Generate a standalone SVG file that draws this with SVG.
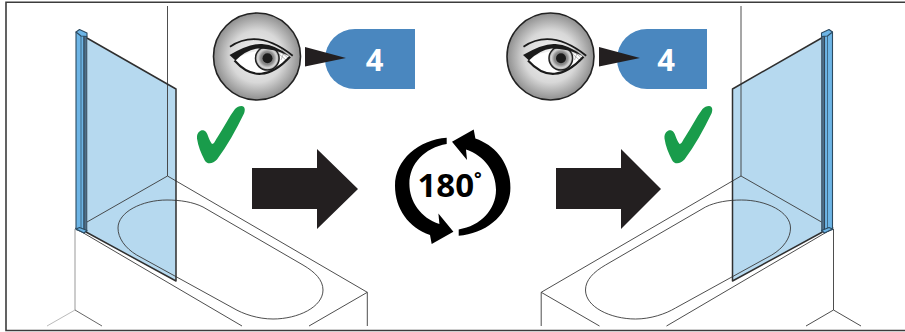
<svg xmlns="http://www.w3.org/2000/svg" xmlns:xlink="http://www.w3.org/1999/xlink" width="905" height="332" viewBox="0 0 905 332">
<style>
.l{fill:none;stroke:#3a3a3a;stroke-width:.9}
.g{fill:#b6d9ef;stroke:none}
.ge{fill:none;stroke:#2f2f2f;stroke-width:1.500;stroke-linejoin:round}
.p1{fill:#6db5e6;stroke:#2c4a60;stroke-width:1.100;stroke-linejoin:round}
.p2{fill:#4d6f88;stroke:#2f3f4f;stroke-width:.8}
.num{font-family:"Open Sans","Liberation Sans",sans-serif;font-weight:700;font-size:31px;fill:#fff;text-anchor:middle}
.big{fill:#231f20}
.chk{fill:#199c4b}
.blue{fill:#4a87bf}
</style>
<defs>
<radialGradient id="disc"><stop offset="0" stop-color="#f6f6f6"/><stop offset=".6" stop-color="#d8d8d8"/><stop offset="1" stop-color="#8f8f8f"/></radialGradient>
<radialGradient id="iris"><stop offset="0" stop-color="#666"/><stop offset=".55" stop-color="#8a8a8a"/><stop offset=".8" stop-color="#d6d6d6"/><stop offset="1" stop-color="#aaa"/></radialGradient>
<g id="scene">
<path class="g" d="M86,38L176,89V281L86,232Z"/>
<path class="l" d="M167.500,6V176L87,222M167.500,176L367.300,292.300L309,326M75,228L242,326"/>
<path class="l" d="M203,207L303,265C315,272 323,280 323,290C323,307 298,319 273,319C258,319 243,314 233,308L136.700,255C125,248 118,238 118,228C118,212 142,200 167,200C180,200 193,202 203,207Z"/>
<path class="ge" d="M86,37.500L176,89V281L86,232"/>
<path class="p1" d="M76,32V229.500L84,232.500V36Z"/>
<path d="M81,34V231" fill="none" stroke="#2c4a60" stroke-width=".7"/>
<path class="p2" d="M84,36H86.800V231.500L84,232.500Z"/>
<path class="p1" d="M76,32L79.500,29.500L87,33L87,36.500L81,36Z"/>
<path class="p1" d="M76,229L79.500,227.500L87,230.500L84,233Z"/>
</g>
<g id="eye">
<circle cx="257" cy="56.500" r="43.500" fill="url(#disc)" stroke="#222" stroke-width="1.600"/>
<path d="M234,60Q258,44 290,56.700Q262,88 234,60Z" fill="#fff"/>
<circle cx="267.300" cy="58.300" r="11.800" fill="url(#iris)" stroke="#222" stroke-width="1.500"/>
<circle cx="267.500" cy="58.300" r="5" fill="#1c1c1c"/>
<path d="M279,50L289,59M281,49L291,58M278,53L287,61M284,52L281,60" fill="none" stroke="#777" stroke-width=".5"/>
<path d="M230,46.700Q258,28 292.700,55.700" fill="none" stroke="#1a1a1a" stroke-width="1.800"/>
<path d="M229.500,55Q250,43 262,44Q276,45 288.500,55.500Q274,48.500 258,48.500Q246,50 235.500,60.500Z" fill="#1a1a1a"/>
<path d="M234.500,60.500Q260,89 290,56.700" fill="none" stroke="#1a1a1a" stroke-width="2.100"/>
</g>
<path id="arc" d="M-6,-49C-34,-47 -57.700,-27 -57.700,-1C-57.700,22 -44,41 -22.700,48.300L-21,57.300L.7,45L-14.300,26.700L-13.300,37.300C-32,31 -43.300,15 -43.300,-3C-43.300,-23 -28,-39 -6,-42.700Z"/>
<path id="chk" d="M241.500,106C245,106 245.500,110 244,113.500C236,130 227,146 217,159.500C213,164 207,165 204.500,160C201,153 198,146 197,138.500C196.500,132 201,129.500 204,130.500C208,132 208,139 212,144C214,144 215,141 217,138C224,127 229,117 235,109C237,107 239,106 241.500,106Z"/>
</defs>
<path d="M905,2.300H6V330.500H905" fill="none" stroke="#3c3c3c" stroke-width="1.600"/>
<g id="shower-left">
<use xlink:href="#scene" href="#scene"/>
<path d="M75,229V310" fill="none" stroke="#999" stroke-width="1"/>
<path d="M75,310L47,326" fill="none" stroke="#bbb" stroke-width="1"/>
<path d="M75,310L102,326" fill="none" stroke="#555" stroke-width=".9"/>
<path class="l" d="M367.300,292.300V326"/>
</g>
<g id="shower-right">
<use xlink:href="#scene" href="#scene" transform="translate(908.500,0) scale(-1,1)"/>
<path class="l" d="M833.500,229V310L806,326M833.500,310L861,326M541.200,292.300V326"/>
</g>
<g id="eye-left">
<use xlink:href="#eye" href="#eye"/>
</g>
<g id="label-left">
<path class="blue" d="M355,29H415V89H355A30,30 0 0 1 355,29Z"/>
<path class="big" d="M305,47L346,58L305,66.500Z"/>
<text class="num" x="374.500" y="70.500">4</text>
</g>
<g id="eye-right">
<use xlink:href="#eye" href="#eye" transform="translate(293.500,0)"/>
</g>
<g id="label-right">
<path class="blue" d="M647,29H707V89H647A30,30 0 0 1 647,29Z"/>
<path class="big" d="M599,47L640,58L599,66.500Z"/>
<text class="num" x="666" y="70.500">4</text>
</g>
<g id="check-left"><use class="chk" xlink:href="#chk" href="#chk"/></g>
<g id="check-right"><use class="chk" xlink:href="#chk" href="#chk" transform="translate(467.500,0)"/></g>
<g id="arrow-left"><path class="big" d="M252,168H317V149L358,189L317,229V209H252Z"/></g>
<g id="arrow-right"><path class="big" d="M556,168H621V149L661,189L621,229V209H556Z"/></g>
<g id="rotate">
<use xlink:href="#arc" href="#arc" transform="translate(452.700,186.700)"/>
<use xlink:href="#arc" href="#arc" transform="translate(452.700,186.700) rotate(180)"/>
<text x="417.500" y="197" font-family="'Open Sans','Liberation Sans',sans-serif" font-weight="700" font-size="33" fill="#000">180<tspan font-size="18" dx="0" dy="-12">°</tspan></text>
</g>
</svg>
